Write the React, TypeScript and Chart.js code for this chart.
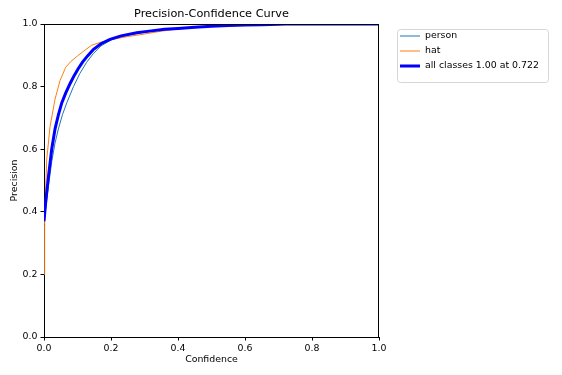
import React, { useEffect, useRef } from "react";
import { Chart, registerables } from "chart.js";

Chart.register(...registerables);

const TITLE = "Precision-Confidence Curve";
const X_LABEL = "Confidence";
const Y_LABEL = "Precision";

const personConf = [0, 0.005, 0.013, 0.023, 0.033, 0.043, 0.055, 0.068, 0.088, 0.107, 0.127, 0.147, 0.17, 0.2, 0.25, 0.3, 0.35, 0.4, 0.5, 0.6, 0.7, 0.8, 0.9, 1.0];
const personPrec = [0.36, 0.41, 0.48, 0.56, 0.62, 0.665, 0.71, 0.748, 0.80, 0.842, 0.877, 0.905, 0.93, 0.949, 0.965, 0.974, 0.981, 0.986, 0.993, 0.997, 0.999, 1.0, 1.0, 1.0];

const hatConf = [0, 0.002, 0.004, 0.008, 0.018, 0.033, 0.048, 0.065, 0.08, 0.1, 0.117, 0.142, 0.17, 0.2, 0.25, 0.3, 0.35, 0.4, 0.5, 0.6, 0.7, 0.8, 0.9, 1.0];
const hatPrec = [0.20, 0.36, 0.44, 0.565, 0.672, 0.76, 0.82, 0.862, 0.88, 0.898, 0.912, 0.932, 0.942, 0.95, 0.96, 0.968, 0.977, 0.984, 0.992, 0.996, 0.999, 1.0, 1.0, 1.0];

const allConf = [0, 0.005, 0.013, 0.023, 0.033, 0.043, 0.053, 0.065, 0.078, 0.09, 0.102, 0.115, 0.13, 0.147, 0.17, 0.197, 0.23, 0.277, 0.32, 0.36, 0.4, 0.45, 0.5, 0.55, 0.6, 0.65, 0.7, 0.722, 0.8, 0.9, 1.0];
const allPrec = [0.37, 0.43, 0.51, 0.60, 0.665, 0.71, 0.748, 0.78, 0.81, 0.835, 0.857, 0.878, 0.898, 0.918, 0.937, 0.951, 0.962, 0.972, 0.978, 0.983, 0.986, 0.99, 0.993, 0.995, 0.997, 0.998, 0.999, 1.0, 1.0, 1.0, 1.0];

const LEGEND_LABELS = ["person", "hat", "all classes 1.00 at 0.722"];
const TICKS = [0, 0.2, 0.4, 0.6, 0.8, 1.0];

const FONT = "'DejaVu Sans', sans-serif";

const zip = (xs: number[], ys: number[]) => xs.map((x, i) => ({ x, y: ys[i] }));

const decorPlugin = {
  id: "decor",
  afterDraw(chart: any) {
    const { ctx, chartArea } = chart;
    const { left, right, top, bottom } = chartArea;
    ctx.save();
    ctx.strokeStyle = "#000";
    ctx.lineWidth = 1;
    ctx.beginPath();
    ctx.moveTo(left, top + 0.5);
    ctx.lineTo(right, top + 0.5);
    ctx.moveTo(right - 0.5, top);
    ctx.lineTo(right - 0.5, bottom);
    ctx.stroke();
    ctx.fillStyle = "#000";
    ctx.font = `11.3px ${FONT}`;
    ctx.textAlign = "center";
    ctx.textBaseline = "middle";
    ctx.fillText(TITLE, (left + right) / 2, top - 10);
    const lx = right + 18;
    const ly = top + 5;
    const lw = 151;
    const lh = 53;
    ctx.beginPath();
    (ctx as any).roundRect(lx + 0.5, ly + 0.5, lw, lh, 3);
    ctx.fillStyle = "rgba(255,255,255,0.8)";
    ctx.fill();
    ctx.strokeStyle = "#d6d6d6";
    ctx.lineWidth = 1;
    ctx.stroke();
    ctx.font = `9.4px ${FONT}`;
    ctx.textAlign = "left";
    [0, 1, 2].forEach((di, i) => {
      const ds = chart.data.datasets[di];
      const y = ly + 7 + i * 15;
      ctx.strokeStyle = ds.borderColor;
      ctx.lineWidth = ds.borderWidth;
      ctx.beginPath();
      ctx.moveTo(lx + 3, y);
      ctx.lineTo(lx + 23, y);
      ctx.stroke();
      ctx.fillStyle = "#000";
      ctx.fillText(LEGEND_LABELS[di], lx + 28, y);
    });
    ctx.restore();
  },
};

export default function App() {
  const ref = useRef<HTMLCanvasElement>(null);
  useEffect(() => {
    if (!ref.current) return;
    const axisCommon = (title: string, isX: boolean) => ({
      type: "linear" as const,
      min: 0,
      max: 1,
      afterBuildTicks: (scale: any) => {
        scale.ticks = TICKS.map((v) => ({ value: v }));
      },
      afterFit: (scale: any) => {
        if (isX) scale.height = 38;
        else scale.width = 44;
      },
      grid: {
        display: true,
        drawOnChartArea: false,
        drawTicks: true,
        tickLength: 3.5,
        color: "#000",
        lineWidth: 1,
      },
      border: { display: true, color: "#000", width: 1 },
      ticks: {
        color: "#000",
        padding: isX ? 2 : 3,
        font: { family: FONT, size: 9.4 },
        callback: (v: any) => Number(v).toFixed(1),
        maxRotation: 0,
        autoSkip: false,
      },
      title: {
        display: true,
        text: title,
        color: "#000",
        font: { family: FONT, size: 9.4 },
        padding: isX ? { top: 0, bottom: 9.4 } : { top: 9.4, bottom: 0 },
      },
    });
    const chart = new Chart(ref.current, {
      type: "line",
      data: {
        datasets: [
          {
            label: LEGEND_LABELS[0],
            data: zip(personConf, personPrec),
            borderColor: "#1f77b4",
            borderWidth: 1,
            pointRadius: 0,
            tension: 0,
            fill: false,
            order: 3,
          },
          {
            label: LEGEND_LABELS[1],
            data: zip(hatConf, hatPrec),
            borderColor: "#ff7f0e",
            borderWidth: 1,
            pointRadius: 0,
            tension: 0,
            fill: false,
            order: 2,
          },
          {
            label: LEGEND_LABELS[2],
            data: zip(allConf, allPrec),
            borderColor: "#0000ff",
            borderWidth: 3,
            pointRadius: 0,
            tension: 0,
            fill: false,
            order: 1,
          },
        ],
      },
      options: {
        animation: false,
        responsive: false,
        layout: { padding: { top: 24, right: 183, left: 0, bottom: 0 } },
        plugins: {
          legend: { display: false },
          title: { display: false },
          tooltip: { enabled: false },
        },
        scales: {
          x: axisCommon(X_LABEL, true),
          y: axisCommon(Y_LABEL, false),
        },
      },
      plugins: [decorPlugin],
    });
    return () => chart.destroy();
  }, []);
  return (
    <div style={{ position: "absolute", left: 0, top: 0, width: 562, height: 375, background: "#fff" }}>
      <canvas ref={ref} width={562} height={375} />
    </div>
  );
}
